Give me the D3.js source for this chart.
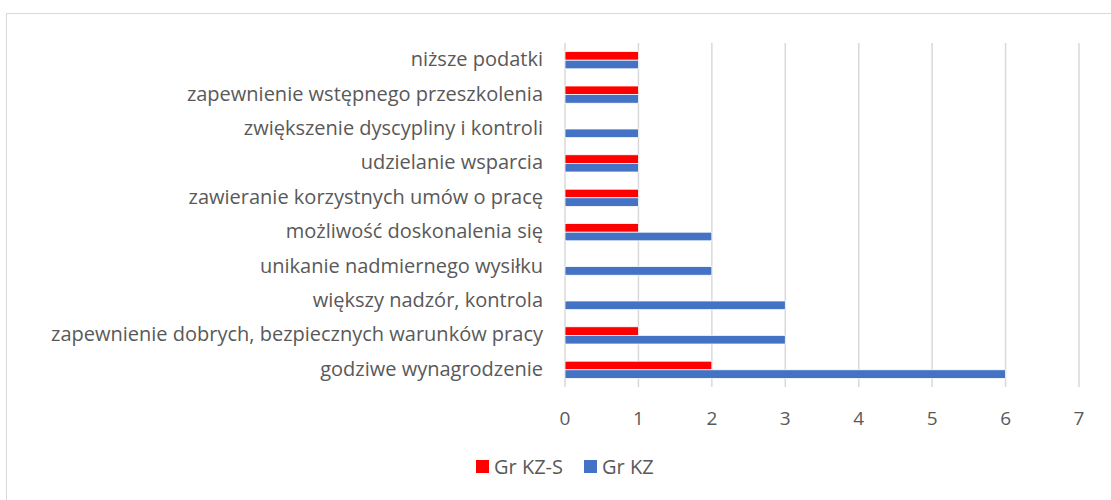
<!DOCTYPE html>
<html>
<head>
<meta charset="utf-8">
<script src="https://cdn.jsdelivr.net/npm/d3@7"></script>
<style>
  body { margin: 0; background: #fff; }
  text { font-family: "Open Sans", sans-serif; fill: #595959; }
</style>
</head>
<body>
<svg id="chart" width="1111" height="500"></svg>
<script>
// categories listed top to bottom
var categories = [
  "niższe podatki",
  "zapewnienie wstępnego przeszkolenia",
  "zwiększenie dyscypliny i kontroli ",
  "udzielanie wsparcia",
  "zawieranie korzystnych umów o pracę",
  "możliwość doskonalenia się",
  "unikanie nadmiernego wysiłku ",
  "większy nadzór, kontrola",
  "zapewnienie dobrych, bezpiecznych warunków pracy",
  "godziwe wynagrodzenie"
];
var seriesNames = ["Gr KZ-S", "Gr KZ"];
var seriesColors = ["#ff0000", "#4472c4"];
var grKZS = [1, 1, 0, 1, 1, 1, 0, 0, 1, 2];
var grKZ  = [1, 1, 1, 1, 1, 2, 2, 3, 3, 6];
var xTicks = [0, 1, 2, 3, 4, 5, 6, 7];

var data = categories.map((c, i) => ({cat: c, vals: [grKZS[i], grKZ[i]]}));

var svg = d3.select("#chart");

// outer chart border
svg.append("rect")
  .attr("x", 6.5).attr("y", 13.5)
  .attr("width", 1120).attr("height", 500)
  .attr("fill", "none")
  .attr("stroke", "#d9d9d9")
  .attr("stroke-width", 1);

var margin = {top: 43, left: 565, right: 32, bottom: 113};
var width = 1111 - margin.left - margin.right;
var height = 500 - margin.top - margin.bottom;

var g = svg.append("g")
  .attr("transform", "translate(" + margin.left + "," + margin.top + ")");

var x = d3.scaleLinear().domain([0, 7]).range([0, width]);
var y = d3.scaleBand().domain(categories).range([0, height]).paddingInner(0.5).paddingOuter(0.25);
var ySub = d3.scaleBand().domain([0, 1]).range([0, y.bandwidth()]);

// gridlines
g.append("g")
  .selectAll("line")
  .data(xTicks)
  .join("line")
    .attr("x1", d => x(d)).attr("x2", d => x(d))
    .attr("y1", 0).attr("y2", height)
    .attr("stroke", "#d9d9d9")
    .attr("stroke-width", 1.5);

// x tick labels
g.append("g")
  .selectAll("text")
  .data(xTicks)
  .join("text")
    .attr("x", d => x(d))
    .attr("y", height + 38)
    .attr("text-anchor", "middle")
    .style("font-size", "19px")
    .text(d => d);

// category labels
g.append("g")
  .selectAll("text")
  .data(categories)
  .join("text")
    .attr("x", -22)
    .attr("y", d => y(d) + y.bandwidth() / 2)
    .attr("dy", "0.3em")
    .attr("text-anchor", "end")
    .style("font-size", "20px")
    .text(d => d);

// bars
var groups = g.append("g")
  .selectAll("g")
  .data(data)
  .join("g")
    .attr("transform", d => "translate(0," + y(d.cat) + ")");

groups.selectAll("rect")
  .data(d => d.vals.map((v, i) => ({v: v, i: i})).filter(e => e.v > 0))
  .join("rect")
    .attr("x", x(0))
    .attr("y", e => ySub(e.i))
    .attr("width", e => x(e.v) - x(0))
    .attr("height", ySub.bandwidth())
    .attr("fill", e => seriesColors[e.i])
    .attr("stroke", "#fff")
    .attr("stroke-width", 0.75);

// legend
var legend = svg.append("g").attr("transform", "translate(476,467)");
var lx = [0, 108];
seriesNames.forEach((s, i) => {
  var item = legend.append("g").attr("transform", "translate(" + lx[i] + ",0)");
  item.append("rect")
    .attr("x", 0).attr("y", -7)
    .attr("width", 13).attr("height", 13)
    .attr("fill", seriesColors[i]);
  item.append("text")
    .attr("x", 18).attr("y", 0)
    .attr("dy", "0.35em")
    .style("font-size", "20px")
    .text(s);
});
</script>
</body>
</html>
